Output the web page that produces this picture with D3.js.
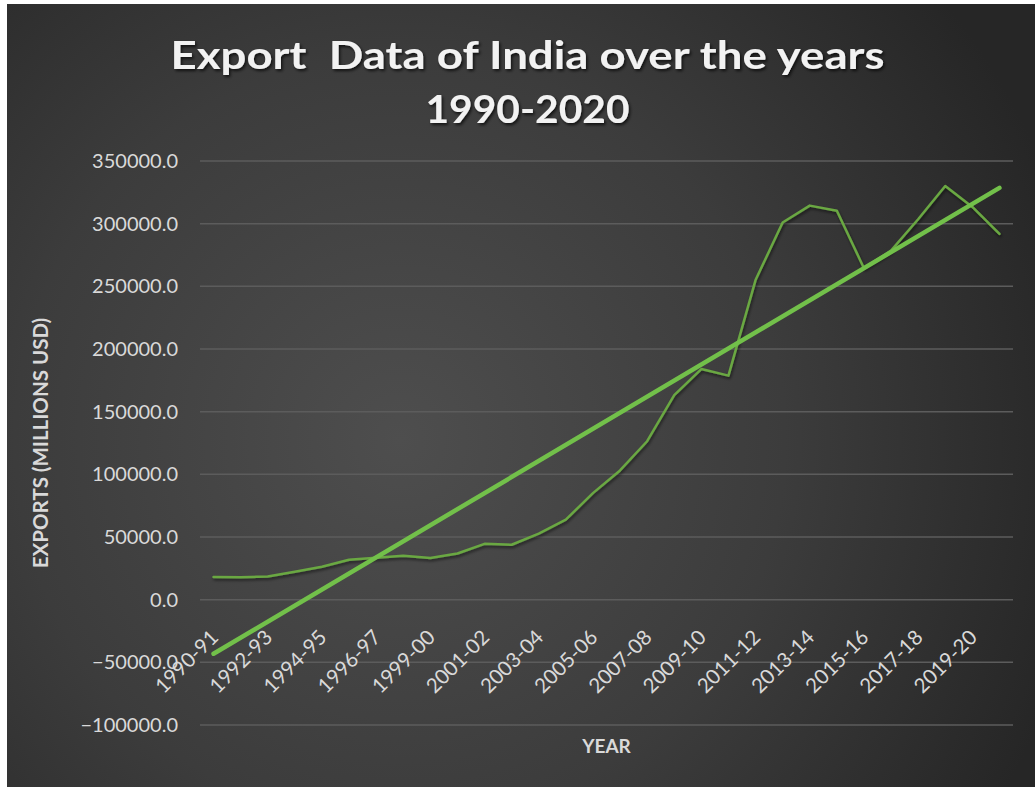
<!DOCTYPE html>
<html>
<head>
<meta charset="utf-8">
<script src="https://cdn.jsdelivr.net/npm/d3@7"></script>
<style>
  html, body { margin: 0; padding: 0; background: #ffffff; }
  svg { display: block; }
</style>
</head>
<body>
<svg id="chart" width="1035" height="787"></svg>
<script>
// Fiscal years shown on the category axis
const years = [
  "1990-91", "1991-92", "1992-93", "1993-94", "1994-95", "1995-96", "1996-97", "1997-98",
  "1999-00", "2000-01", "2001-02", "2002-03", "2003-04", "2004-05", "2005-06", "2006-07",
  "2007-08", "2008-09", "2009-10", "2010-11", "2011-12", "2012-13", "2013-14", "2014-15",
  "2015-16", "2016-17", "2017-18", "2018-19", "2019-20", "2020-21"
];

// Exports, millions of USD
const exportsMUSD = [
  18143, 17865, 18537, 22238, 26330, 31797, 33470, 35006,
  33219, 36822, 44560, 43827, 52719, 63843, 85000, 103091,
  126414, 163132, 184000, 178751, 255000, 300900, 314405, 310338,
  264500, 278500, 303526, 330078, 313361, 291808
];

// Value axis ticks
const yTicks = [-100000, -50000, 0, 50000, 100000, 150000, 200000, 250000, 300000, 350000];

const titleLines = ["Export  Data of India over the years", "1990-2020"];
const titleWidths = [714, 204];
const yTitle = "EXPORTS (MILLIONS USD)";
const xTitle = "YEAR";

const W = 1035, H = 787;
const plot = { left: 200, right: 1013, top: 161, bottom: 725 };

const svg = d3.select("#chart");
const defs = svg.append("defs");

// Dark backdrop with a soft light spot
const bg = defs.append("radialGradient").attr("id", "bgGrad")
  .attr("gradientUnits", "userSpaceOnUse")
  .attr("cx", 400).attr("cy", 440).attr("r", 700);
bg.append("stop").attr("offset", "0%").attr("stop-color", "#4e4e4e");
bg.append("stop").attr("offset", "55%").attr("stop-color", "#3c3c3c");
bg.append("stop").attr("offset", "100%").attr("stop-color", "#262626");

const shadow = defs.append("filter").attr("id", "shadow")
  .attr("x", "-10%").attr("y", "-10%").attr("width", "120%").attr("height", "130%");
shadow.append("feDropShadow").attr("dx", 1).attr("dy", 2).attr("stdDeviation", 1.5)
  .attr("flood-color", "#000").attr("flood-opacity", 0.55);

const textShadow = defs.append("filter").attr("id", "textShadow")
  .attr("x", "-5%").attr("y", "-20%").attr("width", "110%").attr("height", "150%");
textShadow.append("feDropShadow").attr("dx", 1.5).attr("dy", 2).attr("stdDeviation", 1.5)
  .attr("flood-color", "#000").attr("flood-opacity", 0.7);

svg.append("rect").attr("x", 7).attr("y", 4).attr("width", W - 7).attr("height", H - 4)
  .attr("fill", "url(#bgGrad)");

// Scales
const x = d3.scaleBand().domain(years).range([plot.left, plot.right]);
const y = d3.scaleLinear().domain([-100000, 350000]).range([plot.bottom, plot.top]);
const cx = d => x(d) + x.bandwidth() / 2;

// Horizontal gridlines
svg.append("g").selectAll("line").data(yTicks).join("line")
  .attr("x1", plot.left).attr("x2", plot.right)
  .attr("y1", d => y(d)).attr("y2", d => y(d))
  .attr("stroke", "#5c5c5c").attr("stroke-width", 1.5);

// Value axis labels
const yAxis = d3.axisLeft(y).tickValues(yTicks).tickFormat(d3.format(".1f")).tickSize(0).tickPadding(22);
const gy = svg.append("g").attr("transform", `translate(${plot.left},0)`).call(yAxis);
gy.select(".domain").remove();
gy.selectAll("text")
  .attr("fill", "#d9d9d9")
  .style("font-family", "Lato, 'Open Sans', sans-serif")
  .style("font-size", "20px");

// Category axis labels, every second year, rotated
const xAxis = d3.axisBottom(x).tickValues(years.filter((d, i) => i % 2 === 0)).tickSize(0).tickPadding(0);
const gx = svg.append("g").attr("transform", `translate(0,${y(0)})`).call(xAxis);
gx.select(".domain").remove();
gx.selectAll("text")
  .attr("fill", "#d9d9d9")
  .style("font-family", "Lato, 'Open Sans', sans-serif")
  .style("font-size", "20.5px")
  .attr("text-anchor", "end")
  .attr("dy", null)
  .attr("y", 0)
  .attr("transform", "translate(6,39) rotate(-45)");

// Least-squares linear trend across the category index
const n = exportsMUSD.length;
const xs = d3.range(n);
const mx = d3.mean(xs), my = d3.mean(exportsMUSD);
const slope = d3.sum(xs, i => (i - mx) * (exportsMUSD[i] - my)) / d3.sum(xs, i => (i - mx) ** 2);
const intercept = my - slope * mx;
const trend = [0, n - 1].map(i => ({ year: years[i], v: intercept + slope * i }));

const line = d3.line().x(d => cx(d.year)).y(d => y(d.v));
const series = years.map((yr, i) => ({ year: yr, v: exportsMUSD[i] }));

svg.append("path").datum(series)
  .attr("d", line)
  .attr("fill", "none")
  .attr("stroke", "#6aa843")
  .attr("stroke-width", 2.5)
  .attr("stroke-linejoin", "round")
  .attr("stroke-linecap", "round")
  .attr("filter", "url(#shadow)");

svg.append("path").datum(trend)
  .attr("d", line)
  .attr("fill", "none")
  .attr("stroke", "#72c04a")
  .attr("stroke-width", 4.5)
  .attr("stroke-linecap", "round");

// Titles
svg.append("g").attr("filter", "url(#textShadow)")
  .selectAll("text").data(titleLines).join("text")
  .attr("x", (plot.left + plot.right) / 2 - 79)
  .attr("y", (d, i) => 69 + i * 54)
  .attr("text-anchor", "middle")
  .attr("fill", "#f2f2f2")
  .style("font-family", "Lato, sans-serif")
  .style("font-weight", 700)
  .style("font-size", "39px")
  .attr("xml:space", "preserve")
  .attr("textLength", (d, i) => titleWidths[i])
  .attr("lengthAdjust", "spacingAndGlyphs")
  .text(d => d);

svg.append("text")
  .attr("transform", `translate(48,${(plot.top + plot.bottom) / 2}) rotate(-90)`)
  .attr("text-anchor", "middle")
  .attr("fill", "#d9d9d9")
  .style("font-family", "Lato, sans-serif")
  .style("font-weight", 700)
  .style("font-size", "20.5px")
  .text(yTitle);

svg.append("text")
  .attr("x", (plot.left + plot.right) / 2)
  .attr("y", 753)
  .attr("text-anchor", "middle")
  .attr("fill", "#d9d9d9")
  .style("font-family", "Lato, sans-serif")
  .style("font-weight", 700)
  .style("font-size", "19px")
  .text(xTitle);
</script>
</body>
</html>
